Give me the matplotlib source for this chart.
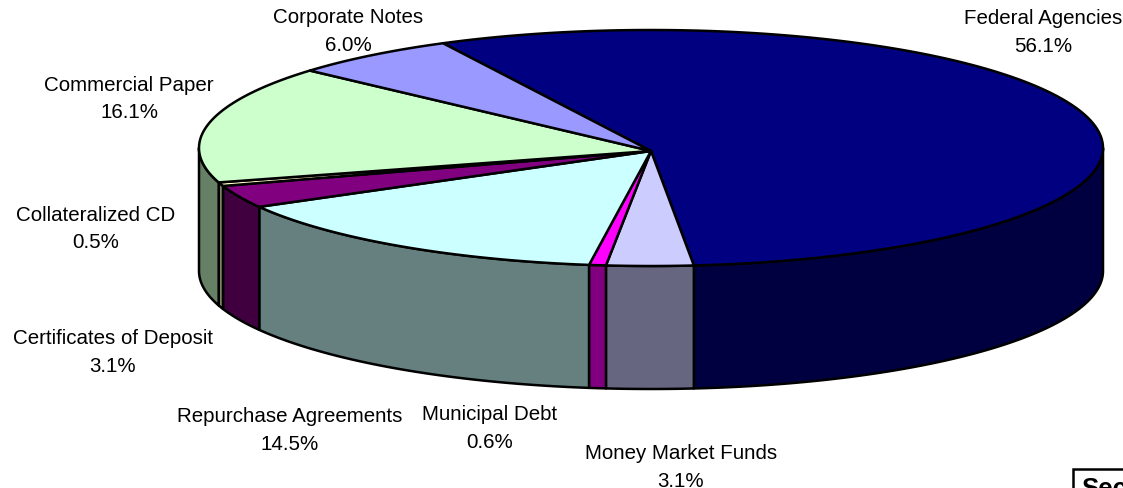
import numpy as np
import matplotlib
matplotlib.use("Agg")
import matplotlib.pyplot as plt
from matplotlib.patches import Rectangle

names = ["Federal Agencies", "Money Market Funds", "Municipal Debt", "Repurchase Agreements",
         "Certificates of Deposit", "Collateralized CD", "Commercial Paper", "Corporate Notes"]
shares = [56.1, 3.1, 0.6, 14.5, 3.1, 0.5, 16.1, 6.0]
top_colors = ["#000080", "#CCCCFF", "#FF00FF", "#CCFFFF", "#800080", "#FFFFCC", "#CCFFCC", "#9999FF"]
side_colors = ["#000040", "#666680", "#800080", "#668080", "#400040", "#808066", "#668066", "#4D4D80"]
label_pos = [(1043, 32.5), (681, 467.5), (490, 428.5), (290, 430.5), (113, 352.5), (96, 229), (129, 99), (348, 31.5)]

plt.rcParams["font.family"] = ["Liberation Sans", "DejaVu Sans"]

W, H = 1123, 489
cx, cy, a, b = 651, 149, 452, 118
apex = (651, 152)
depth = 123
start = 117.4

fig = plt.figure(figsize=(W / 100, H / 100), dpi=100)
ax = fig.add_axes([0, 0, 1, 1])
ax.set_xlim(0, W)
ax.set_ylim(H, 0)
ax.axis("off")

edges = start - np.cumsum([0] + shares) * 3.6


def arc(t0, t1):
    t = np.radians(np.linspace(t0, t1, 200))
    return cx + a * np.cos(t), cy - b * np.sin(t)


# side wall: only the part of the rim on the front of the pie
for i in range(len(shares)):
    t0, t1 = min(edges[i], 0), max(edges[i + 1], -180)
    if t0 <= t1:
        continue
    x, y = arc(t0, t1)
    ax.fill(np.r_[x, x[::-1]], np.r_[y, y[::-1] + depth], fc=side_colors[i], ec="black", lw=1.8, joinstyle="round")

# top face
for i in range(len(shares)):
    x, y = arc(edges[i], edges[i + 1])
    ax.fill(np.r_[apex[0], x], np.r_[apex[1], y], fc=top_colors[i], ec="black", lw=1.8, joinstyle="round")

for name, share, (lx, ly) in zip(names, shares, label_pos):
    ax.text(lx, ly, f"{name}\n{share:.1f}%", ha="center", va="center", fontsize=14.8,
            linespacing=1.575, color="black")

ax.add_patch(Rectangle((1073, 470), 80, 40, fc="white", ec="black", lw=1.8))
ax.text(1081, 496.5, "Sector", fontsize=18.5, fontweight="bold", ha="left", va="baseline")

fig.savefig("out.png", dpi=100)
